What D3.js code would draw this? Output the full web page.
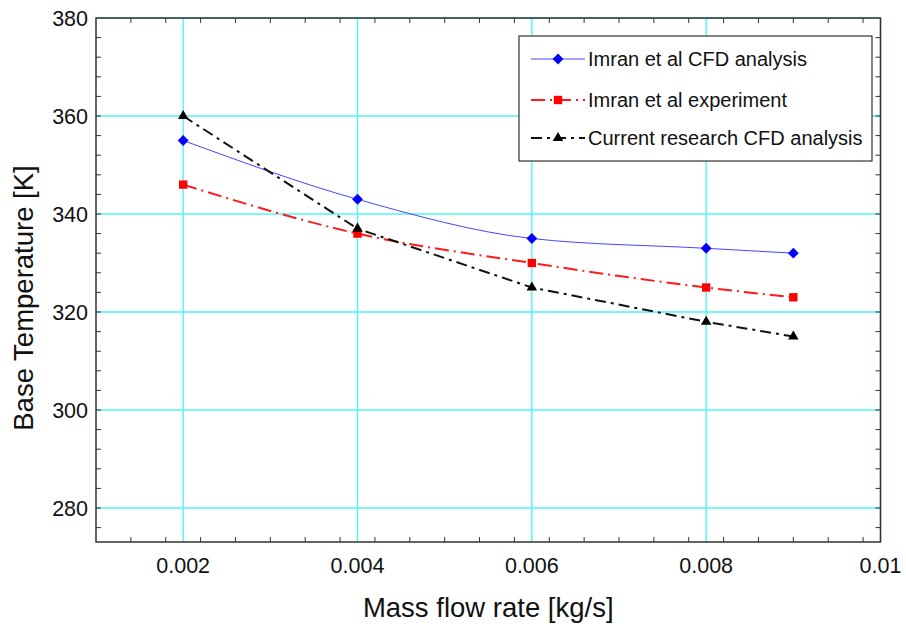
<!DOCTYPE html>
<html><head><meta charset="utf-8">
<script src="https://cdn.jsdelivr.net/npm/d3@7"></script>
<style>body{margin:0;background:#fff;} text{font-family:"Liberation Sans",Arial,sans-serif;}</style>
</head><body>
<svg id="chart" width="906" height="631"></svg>
<script>
const flowRates = [0.002, 0.004, 0.006, 0.008, 0.009];
const imranCFD = [355, 343, 335, 333, 332];
const imranExp = [346, 336, 330, 325, 323];
const currentCFD = [360, 337, 325, 318, 315];
const seriesNames = ["Imran et al CFD analysis", "Imran et al experiment", "Current research CFD analysis"];
const xTickLabels = [0.002, 0.004, 0.006, 0.008, 0.01];
const yTickLabels = [280, 300, 320, 340, 360, 380];

const svg = d3.select("#chart");
const L = 96, R = 880.5, T = 18, B = 542;
const x = d3.scaleLinear().domain([0.001, 0.01]).range([L, R]);
const y = d3.scaleLinear().domain([273.06, 380]).range([B, T]);

// grid
const grid = svg.append("g");
grid.selectAll("line.gx").data(xTickLabels).join("line")
  .attr("x1", d => x(d)).attr("x2", d => x(d)).attr("y1", T).attr("y2", B)
  .attr("stroke", "#4ff5f5").attr("stroke-width", 1.4);
grid.selectAll("line.gy").data(yTickLabels).join("line")
  .attr("y1", d => y(d)).attr("y2", d => y(d)).attr("x1", L).attr("x2", R)
  .attr("stroke", "#4ff5f5").attr("stroke-width", 1.4);

// minor ticks
const xMinor = d3.range(0.001, 0.01 + 1e-9, 0.0004).filter(v => v > 0.0010001 && v < 0.0099999);
const yMinor = d3.range(276, 380, 4);
const tk = svg.append("g").attr("stroke", "#333").attr("stroke-width", 1);
const tickLen = 5;
xMinor.forEach(v => {
  tk.append("line").attr("x1", x(v)).attr("x2", x(v)).attr("y1", B).attr("y2", B - tickLen);
  tk.append("line").attr("x1", x(v)).attr("x2", x(v)).attr("y1", T).attr("y2", T + tickLen);
});
yMinor.forEach(v => {
  tk.append("line").attr("y1", y(v)).attr("y2", y(v)).attr("x1", L).attr("x2", L + tickLen);
  tk.append("line").attr("y1", y(v)).attr("y2", y(v)).attr("x1", R).attr("x2", R - tickLen);
});

// frame
svg.append("rect").attr("x", L).attr("y", T).attr("width", R - L).attr("height", B - T)
  .attr("fill", "none").attr("stroke", "#333").attr("stroke-width", 1.5);

// tick labels
svg.append("g").selectAll("text").data(xTickLabels).join("text")
  .attr("x", d => x(d)).attr("y", 573).attr("text-anchor", "middle")
  .attr("font-size", 21.5).attr("fill", "#111").text(d => d);
svg.append("g").selectAll("text").data(yTickLabels).join("text")
  .attr("x", 88).attr("y", d => y(d) + 7.7).attr("text-anchor", "end")
  .attr("font-size", 21.5).attr("fill", "#111").text(d => d);

// axis titles
svg.append("text").attr("x", (L + R) / 2).attr("y", 617).attr("text-anchor", "middle")
  .attr("font-size", 27.5).attr("fill", "#111").text("Mass flow rate [kg/s]");
svg.append("text").attr("transform", `translate(33,298) rotate(-90)`)
  .attr("text-anchor", "middle").attr("font-size", 27.5).attr("fill", "#111").text("Base Temperature [K]");

const styles = [
  {vals: imranCFD, color: "#4646ff", width: 1, dash: null, curve: d3.curveMonotoneX, marker: d3.symbolDiamond2, msize: 75, mcolor: "#0000ff"},
  {vals: imranExp, color: "#ff1a1a", width: 2, dash: "14,5,2,5", curve: d3.curveMonotoneX, marker: d3.symbolSquare, msize: 70, mcolor: "#ff0000"},
  {vals: currentCFD, color: "#111", width: 2, dash: "11,5,3,5", curve: d3.curveLinear, marker: d3.symbolTriangle, msize: 48, mcolor: "#000"}
];

styles.forEach(s => {
  const pts = flowRates.map((f, i) => [f, s.vals[i]]);
  const line = d3.line().x(d => x(d[0])).y(d => y(d[1])).curve(s.curve);
  svg.append("path").datum(pts).attr("d", line).attr("fill", "none")
    .attr("stroke", s.color).attr("stroke-width", s.width).attr("stroke-dasharray", s.dash);
  svg.append("g").selectAll("path").data(pts).join("path")
    .attr("transform", d => `translate(${x(d[0])},${y(d[1])})`)
    .attr("d", d3.symbol().type(s.marker).size(s.msize)).attr("fill", s.mcolor);
});

// legend
const lg = svg.append("g");
lg.append("rect").attr("x", 519).attr("y", 36).attr("width", 353).attr("height", 125)
  .attr("fill", "#fff").attr("stroke", "#333").attr("stroke-width", 1.2);
const rowsY = [59, 100, 138];
styles.forEach((s, i) => {
  const yy = rowsY[i];
  lg.append("line").attr("x1", 531).attr("x2", 585).attr("y1", yy).attr("y2", yy)
    .attr("stroke", s.color).attr("stroke-width", s.width).attr("stroke-dasharray", s.dash);
  lg.append("path").attr("transform", `translate(558,${yy})`)
    .attr("d", d3.symbol().type(s.marker).size(s.msize)).attr("fill", s.mcolor);
  lg.append("text").attr("x", 588).attr("y", yy + 7).attr("font-size", 20).attr("fill", "#111").text(seriesNames[i]);
});
</script>
</body></html>
